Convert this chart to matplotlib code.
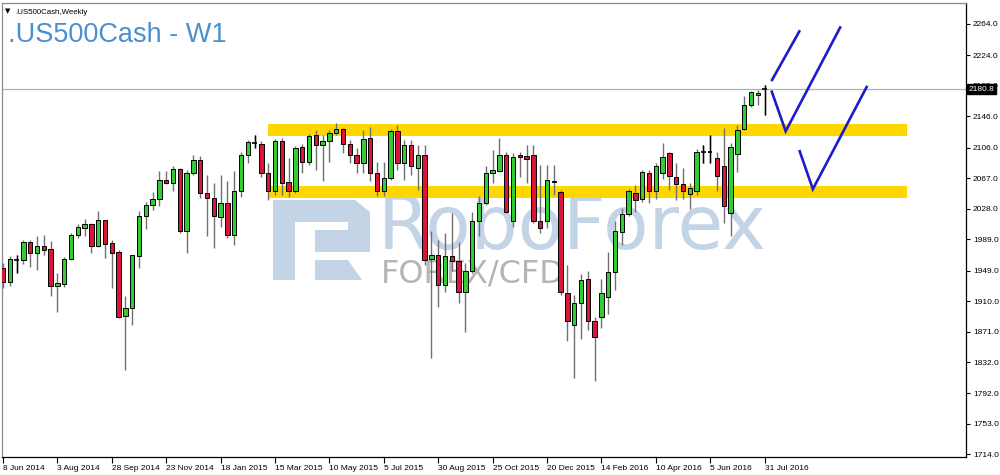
import matplotlib
matplotlib.use("Agg")
import matplotlib.pyplot as plt
from matplotlib.patches import Rectangle, Polygon

plt.rcParams['font.family'] = ['Liberation Sans', 'DejaVu Sans']

# weekly bars, index 0 = week of 8 Jun 2014
tick_labels = ["8 Jun 2014", "3 Aug 2014", "28 Sep 2014", "23 Nov 2014",
               "18 Jan 2015", "15 Mar 2015", "10 May 2015", "5 Jul 2015",
               "30 Aug 2015", "25 Oct 2015", "20 Dec 2015", "14 Feb 2016",
               "10 Apr 2016", "5 Jun 2016", "31 Jul 2016"]
tick_step = 8

opens = [1952, 1935, 1963, 1962, 1986, 1971, 1980, 1976, 1929, 1932,
         1964, 1994, 2003, 2009, 1980, 2013, 1984, 1973, 1891, 1901,
         1968, 2019, 2033, 2040, 2065, 2061, 2079, 1999, 2073, 2090,
         2048, 2042, 2018, 2035, 1995, 2051, 2096, 2112, 2111, 2073,
         2050, 2114, 2062, 2050, 2107, 2088, 2122, 2110, 2115, 2125,
         2130, 2111, 2096, 2087, 2118, 2074, 2051, 2067, 2127, 2086,
         2109, 2080, 2096, 1964, 1969, 1930, 1968, 1961, 1921, 1949,
         2012, 2035, 2074, 2076, 2097, 2012, 2097, 2095, 2096, 2012,
         2012, 2064, 2049, 1920, 1879, 1908, 1938, 1885, 1890, 1915,
         1947, 1998, 2021, 2048, 2041, 2074, 2050, 2073, 2099, 2068,
         2060, 2047, 2050, 2101, 2100, 2093, 2082, 2022, 2098, 2130,
         2161, 2173, 2180.8]
highs = [1959, 1967, 1969, 1988, 1988, 1993, 1994, 1987, 1946, 1966,
         1997, 2008, 2015, 2010, 2025, 2013, 1988, 1975, 1916, 1969,
         2025, 2037, 2049, 2076, 2076, 2082, 2080, 2078, 2096, 2095,
         2071, 2061, 2071, 2063, 2076, 2101, 2116, 2122, 2114, 2086,
         2117, 2118, 2093, 2108, 2111, 2124, 2128, 2122, 2129, 2138,
         2131, 2116, 2105, 2129, 2133, 2088, 2088, 2130, 2135, 2116,
         2116, 2110, 2110, 1999, 1988, 1997, 2023, 1985, 1959, 2024,
         2044, 2082, 2103, 2118, 2101, 2099, 2100, 2110, 2110, 2084,
         2084, 2084, 2052, 1956, 1918, 1944, 1949, 1890, 1938, 1973,
         2012, 2029, 2053, 2058, 2077, 2078, 2087, 2112, 2101, 2087,
         2080, 2061, 2104, 2110, 2122, 2101, 2131, 2112, 2135, 2172,
         2179, 2180, 2186]
lows = [1927, 1929, 1946, 1958, 1953, 1950, 1969, 1917, 1896, 1928,
        1963, 1991, 1993, 1972, 1979, 1965, 1927, 1889, 1822, 1880,
        1952, 2002, 2026, 2031, 2059, 2051, 1997, 1971, 2071, 2042,
        1993, 1978, 2005, 1991, 1982, 2043, 2086, 2105, 2069, 2039,
        2046, 2046, 2043, 2048, 2073, 2084, 2078, 2063, 2088, 2122,
        2099, 2086, 2073, 2073, 2063, 2044, 2044, 2065, 2078, 2065,
        2071, 2052, 1956, 1837, 1903, 1922, 1948, 1908, 1871, 1946,
        1993, 2033, 2061, 2075, 2022, 2005, 2069, 2061, 2010, 1997,
        2003, 2046, 1918, 1859, 1812, 1861, 1873, 1808, 1876, 1893,
        1924, 1982, 2019, 2024, 2036, 2035, 2041, 2066, 2052, 2039,
        2040, 2027, 2046, 2087, 2087, 2051, 2010, 1993, 2075, 2128,
        2158, 2161, 2148]
closes = [1935, 1964, 1963, 1986, 1971, 1980, 1975, 1929, 1933, 1964,
          1994, 2004, 2008, 1980, 2013, 1983, 1972, 1890, 1901, 1969,
          2019, 2033, 2040, 2065, 2061, 2079, 1999, 2073, 2090, 2048,
          2042, 2019, 2035, 1995, 2051, 2097, 2113, 2112, 2074, 2050,
          2114, 2061, 2050, 2105, 2088, 2121, 2110, 2115, 2125, 2130,
          2111, 2096, 2087, 2117, 2074, 2050, 2067, 2127, 2086, 2109,
          2082, 2097, 1963, 1969, 1930, 1967, 1961, 1921, 1949, 2012,
          2035, 2074, 2077, 2097, 2024, 2094, 2094, 2091, 2012, 2003,
          2065, 2062, 1921, 1884, 1908, 1937, 1884, 1864, 1920, 1947,
          1999, 2021, 2050, 2039, 2075, 2050, 2083, 2094, 2070, 2060,
          2050, 2054, 2101, 2101, 2100, 2070, 2032, 2107, 2129, 2161,
          2177, 2176, 2180.8]

price_ticks = [1714.0, 1753.0, 1792.0, 1832.0, 1871.0, 1910.0, 1949.0,
               1989.0, 2028.0, 2067.0, 2106.0, 2146.0, 2185.0, 2224.0, 2264.0]
last_price = 2180.8

# yellow zones: price ranges and bar range they span
upper_zone = (2121.5, 2136.5)
lower_zone = (2041.5, 2056.5)
zone_bars = (39.0, 132.9)

# hand-drawn blue strokes (bar index, price)
stroke_bars = [113.0, 117.2]
stroke_prices = [2191, 2256]
check1_bars = [113.0, 115.1, 123.2]
check1_prices = [2179, 2127, 2261]
check2_bars = [117.1, 119.1, 127.1]
check2_prices = [2103, 2053, 2185]

UP = '#32cd32'
DOWN = '#dc143c'
WICK = '#707070'
W = 1000.0
H = 475.0

fig = plt.figure(figsize=(10, 4.75), dpi=100, facecolor='white')
ax = fig.add_axes([2 / W, 1 - 457 / H, 964 / W, 454 / H])
ax.set_xlim(-0.147, 141.62)
ax.set_ylim(1710.8, 2290.8)

# watermark (logo + text) behind everything
wm = '#c4d4e7'
def fp(pts):
    return [(x / W, 1 - y / H) for x, y in pts]
logo = [
    [(273, 200), (295, 200), (295, 280), (273, 280)],
    [(273, 200), (355, 200), (370, 212), (370, 222), (273, 222)],
    [(348, 215), (370, 215), (370, 252), (348, 252)],
    [(315, 230), (370, 230), (370, 252), (315, 252)],
    [(315, 260), (348, 260), (362, 280), (315, 280)],
]
for pts in logo:
    ax.add_patch(Polygon(fp(pts), closed=True, transform=fig.transFigure,
                         facecolor=wm, edgecolor='none', zorder=0.5,
                         clip_on=False))
ax.text(378 / W, 1 - 249 / H, 'RoboForex', transform=fig.transFigure,
        fontsize=53.5, color=wm, family='DejaVu Sans', va='baseline',
        ha='left', zorder=0.5)
ax.text(381 / W, 1 - 283 / H, 'FOREX/CFD', transform=fig.transFigure,
        fontsize=23, color='#b5b5b5', family='DejaVu Sans', va='baseline',
        ha='left', zorder=0.5)

# zones
for lo, hi in (upper_zone, lower_zone):
    ax.fill_between(list(zone_bars), lo, hi, color='#ffd700', lw=0, zorder=1)

# current price line
ax.axhline(last_price, color='#a9b2be', lw=0.9, zorder=2)

# candles
bw = 0.64
for i, (o, h, l, c) in enumerate(zip(opens, highs, lows, closes)):
    ax.vlines(i, l, h, color=WICK, lw=1.0, zorder=3)
    if o == c:
        ax.hlines(o, i - bw / 2, i + bw / 2, color='black', lw=1.2, zorder=4)
        ax.vlines(i, l, h, color='black', lw=1.0, zorder=3.5)
        continue
    col = UP if c > o else DOWN
    ax.add_patch(Rectangle((i - bw / 2, min(o, c)), bw, abs(c - o),
                           facecolor=col, edgecolor='black', lw=0.7, zorder=4))

# blue check marks
blue = '#1c1ccc'
for xs, ys in ((stroke_bars, stroke_prices), (check1_bars, check1_prices),
               (check2_bars, check2_prices)):
    ax.plot(xs, ys, color=blue, lw=1.9, solid_joinstyle='miter',
            solid_capstyle='butt', zorder=5)

# axes styling
for side in ('top', 'left'):
    ax.spines[side].set_color('#8a8a8a')
for side in ('right', 'bottom'):
    ax.spines[side].set_color('black')
for s in ax.spines.values():
    s.set_linewidth(0.9)

ax.yaxis.tick_right()
ax.set_yticks(price_ticks)
ax.set_yticklabels(['%.1f' % v for v in price_ticks])
ax.tick_params(axis='y', direction='out', length=3, width=0.8, pad=2,
               labelsize=6, colors='black')
ax.set_xticks([k * tick_step for k in range(len(tick_labels))])
ax.set_xticklabels(tick_labels, ha='left')
ax.tick_params(axis='x', direction='out', length=4, width=0.8, pad=2,
               labelsize=6, colors='black')

ax.text(1.003, last_price, '%.1f' % last_price,
        transform=ax.get_yaxis_transform(), ha='left', va='center',
        fontsize=6, color='white', zorder=6, clip_on=False,
        bbox=dict(facecolor='black', edgecolor='black', pad=1.3))

# titles
fig.text(8 / W, 1 - 41.5 / H, '.US500Cash - W1', fontsize=19.5,
         color='#4a8fd0', va='baseline', ha='left')
fig.text(5 / W, 1 - 13.5 / H, '\u25bc', fontsize=5, color='black',
         va='baseline', ha='left', family=['DejaVu Sans'])
fig.text(15 / W, 1 - 13.5 / H, '.US500Cash,Weekly', fontsize=5.7,
         color='black', va='baseline', ha='left')

fig.savefig('out.png', dpi=100, facecolor='white')
